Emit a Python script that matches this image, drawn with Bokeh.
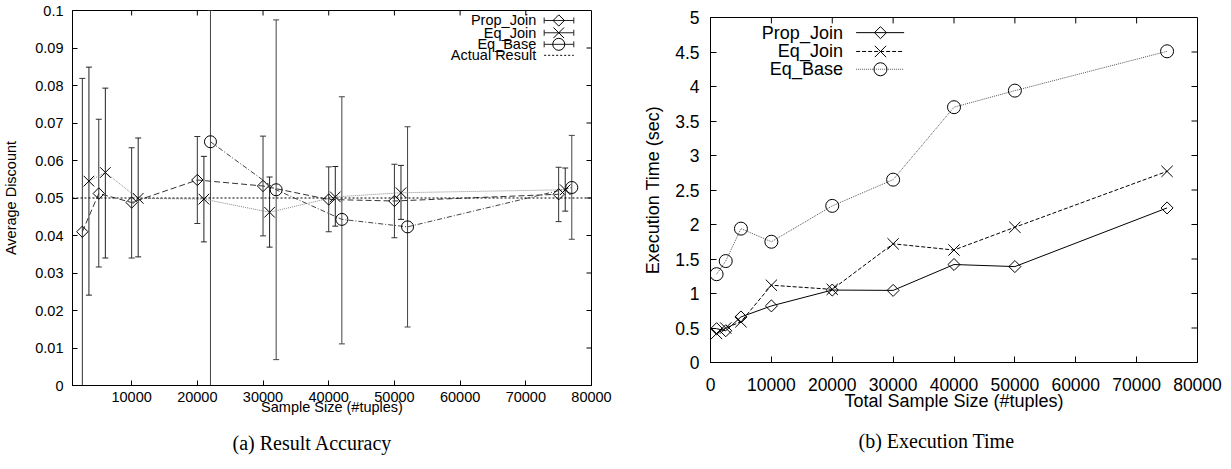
import numpy as np
from bokeh.plotting import figure
from bokeh.models import (ColumnDataSource, Whisker, TeeHead, Span, Label,
                          FixedTicker, Range1d, Title)
from bokeh.layouts import row, column
from bokeh.embed import file_html
from bokeh.resources import INLINE

# ---------------- (a) Result Accuracy ----------------
acc_prop_x = [2500, 5000, 10000, 20000, 30000, 40000, 50000, 75000]
acc_prop_mean = [0.0410, 0.0512, 0.0488, 0.0548, 0.0532, 0.0496, 0.0492, 0.0510]
acc_prop_low = [0.0000, 0.0316, 0.0340, 0.0432, 0.0399, 0.0410, 0.0394, 0.0437]
acc_prop_high = [0.0819, 0.0710, 0.0634, 0.0664, 0.0665, 0.0583, 0.0590, 0.0582]

acc_eqjoin_x = [3500, 6000, 11000, 21000, 31000, 41000, 51000, 76000]
acc_eqjoin_mean = [0.0545, 0.0568, 0.0499, 0.0497, 0.0462, 0.0503, 0.0514, 0.0522]
acc_eqjoin_low = [0.0241, 0.0340, 0.0343, 0.0383, 0.0369, 0.0425, 0.0443, 0.0465]
acc_eqjoin_high = [0.0849, 0.0793, 0.0660, 0.0611, 0.0556, 0.0584, 0.0587, 0.0580]

acc_eqbase_x = [22000, 32000, 42000, 52000, 77000]
acc_eqbase_mean = [0.0650, 0.0522, 0.0443, 0.0423, 0.0528]
acc_eqbase_low = [-0.0350, 0.0069, 0.0111, 0.0156, 0.0390]
acc_eqbase_high = [0.1650, 0.0975, 0.0770, 0.0690, 0.0667]

actual_result = 0.05

acc_x_ticks = [10000, 20000, 30000, 40000, 50000, 60000, 70000, 80000]
acc_x_tick_labels = ["10000", "20000", "30000", "40000", "50000", "60000", "70000", "80000"]
acc_y_ticks = [0.0, 0.01, 0.02, 0.03, 0.04, 0.05, 0.06, 0.07, 0.08, 0.09, 0.1]
acc_y_tick_labels = ["0", "0.01", "0.02", "0.03", "0.04", "0.05", "0.06", "0.07", "0.08", "0.09", "0.1"]

# ---------------- (b) Execution Time ----------------
time_sizes = [1000, 2500, 5000, 10000, 20000, 30000, 40000, 50000, 75000]
time_prop = [0.49, 0.46, 0.66, 0.82, 1.05, 1.045, 1.42, 1.39, 2.24]
time_eqjoin = [0.42, 0.50, 0.59, 1.12, 1.06, 1.72, 1.63, 1.96, 2.77]
time_eqbase = [1.28, 1.47, 1.94, 1.75, 2.27, 2.65, 3.70, 3.94, 4.51]

time_x_ticks = [0, 10000, 20000, 30000, 40000, 50000, 60000, 70000, 80000]
time_x_tick_labels = ["0", "10000", "20000", "30000", "40000", "50000", "60000", "70000", "80000"]
time_y_ticks = [0.0, 0.5, 1.0, 1.5, 2.0, 2.5, 3.0, 3.5, 4.0, 4.5, 5.0]
time_y_tick_labels = ["0", "0.5", "1", "1.5", "2", "2.5", "3", "3.5", "4", "4.5", "5"]

series_names = ["Prop_Join", "Eq_Join", "Eq_Base"]
actual_name = "Actual Result"

SANS = "Liberation Sans"
SERIF = "Liberation Serif"


def style_axes(p, xt, xl, yt, yl, fs, tick_in, x_lab_std, y_lab_std, xls, yls, label_fs):
    p.xaxis.ticker = FixedTicker(ticks=xt)
    p.yaxis.ticker = FixedTicker(ticks=yt)
    p.xaxis.major_label_overrides = {t: l for t, l in zip(xt, xl)}
    p.yaxis.major_label_overrides = {t: l for t, l in zip(yt, yl)}
    for ax in (p.xaxis, p.yaxis):
        ax.major_tick_in = tick_in
        ax.major_tick_out = 0
        ax.minor_tick_line_color = None
        ax.axis_line_color = "black"
        ax.major_tick_line_color = "black"
        ax.major_label_text_font = SANS
        ax.major_label_text_font_size = fs
        ax.major_label_text_color = "black"
        ax.axis_label_text_font = SANS
        ax.axis_label_text_font_size = label_fs
        ax.axis_label_text_font_style = "normal"
        ax.axis_label_text_color = "black"
    p.xaxis.major_label_standoff = x_lab_std
    p.yaxis.major_label_standoff = y_lab_std
    p.xaxis.axis_label_standoff = xls
    p.yaxis.axis_label_standoff = yls
    p.xgrid.grid_line_color = None
    p.ygrid.grid_line_color = None
    p.outline_line_color = "black"
    p.outline_line_alpha = 1.0


def mirror_ticks(p, xt, yt, frame_w, frame_h, tick_px):
    """inward tick marks on the top and right edges of the frame (gnuplot mirror)"""
    xr, yr = p.x_range, p.y_range
    dy = tick_px / frame_h * (yr.end - yr.start)
    dx = tick_px / frame_w * (xr.end - xr.start)
    xt_in = [t for t in xt if xr.start < t < xr.end]
    yt_in = [t for t in yt if yr.start < t < yr.end]
    p.segment(x0=xt_in, y0=[yr.end] * len(xt_in), x1=xt_in, y1=[yr.end - dy] * len(xt_in),
              line_color="black", line_width=1)
    p.segment(x0=[xr.end] * len(yt_in), y0=yt_in, x1=[xr.end - dx] * len(yt_in), y1=yt_in,
              line_color="black", line_width=1)


def fx(frac, r):
    return r.start + frac * (r.end - r.start)


def fy(frac_from_top, r):
    return r.end - frac_from_top * (r.end - r.start)


H = 466

# ======== Figure (a) ========
p1 = figure(width=628, height=H, output_backend="svg", toolbar_location=None,
            x_range=Range1d(1000, 80000), y_range=Range1d(0, 0.1),
            min_border_left=72, min_border_right=37, min_border_top=10, min_border_bottom=H - 386,
            x_axis_label="Sample Size (#tuples)", y_axis_label="Average Discount")
style_axes(p1, acc_x_ticks, acc_x_tick_labels, acc_y_ticks, acc_y_tick_labels,
           "14.5px", 5, 6, 9, -6, 13, "14.5px")
mirror_ticks(p1, acc_x_ticks, acc_y_ticks, 519, 376, 5)

p1.add_layout(Span(location=actual_result, dimension="width", line_color="black",
                   line_dash="2 2", line_width=1))

lines_a = [
    (acc_prop_x, acc_prop_mean, "#333333", "6 3"),
    (acc_eqjoin_x, acc_eqjoin_mean, "#888888", "1 1"),
    (acc_eqbase_x, acc_eqbase_mean, "#444444", "5 2 1 2"),
]
for xs, ys, col, dash in lines_a:
    p1.line(xs, ys, line_color=col, line_dash=dash, line_width=1)

err_sets = [
    (acc_prop_x, acc_prop_low, acc_prop_high, "#333333"),
    (acc_eqjoin_x, acc_eqjoin_low, acc_eqjoin_high, "#222222"),
    (acc_eqbase_x, acc_eqbase_low, acc_eqbase_high, "#444444"),
]
for xs, lo, hi, col in err_sets:
    src = ColumnDataSource(dict(x=xs, lo=np.clip(lo, 0, 0.1), hi=np.clip(hi, 0, 0.1)))
    p1.add_layout(Whisker(base="x", lower="lo", upper="hi", source=src, dimension="height",
                          line_color=col, line_width=1,
                          upper_head=TeeHead(size=6, line_color=col, line_width=1),
                          lower_head=TeeHead(size=6, line_color=col, line_width=1)))

mk_a = dict(line_color="black", fill_color=None, line_width=1)
p1.scatter(acc_prop_x, acc_prop_mean, marker="square", angle=np.pi / 4, size=8, **mk_a)
p1.scatter(acc_eqjoin_x, acc_eqjoin_mean, marker="x", size=15, **mk_a)
p1.scatter(acc_eqbase_x, acc_eqbase_mean, marker="circle", size=12, **mk_a)

# legend (a): labels left of samples, as in gnuplot
xr, yr = p1.x_range, p1.y_range
lg_text_x = fx(0.8935, xr)
lg_x0, lg_x1, lg_xm = fx(0.9088, xr), fx(0.9659, xr), fx(0.9369, xr)
lg_rows = [fy(f, yr) for f in (0.0266, 0.0594, 0.0902, 0.1195)]
lg_src = ColumnDataSource(dict(y=lg_rows[:3], lo=[lg_x0] * 3, hi=[lg_x1] * 3))
p1.add_layout(Whisker(base="y", lower="lo", upper="hi", source=lg_src, dimension="width",
                      line_color="#222222", line_width=1,
                      upper_head=TeeHead(size=6, line_color="#222222"),
                      lower_head=TeeHead(size=6, line_color="#222222")))
p1.scatter([lg_xm], [lg_rows[0]], marker="square", angle=np.pi / 4, size=8, **mk_a)
p1.scatter([lg_xm], [lg_rows[1]], marker="x", size=15, **mk_a)
p1.scatter([lg_xm], [lg_rows[2]], marker="circle", size=12, **mk_a)
p1.segment(x0=[lg_x0], y0=[lg_rows[3]], x1=[lg_x1], y1=[lg_rows[3]], line_color="black",
           line_dash="2 2", line_width=1)
for name, yv in zip(series_names + [actual_name], lg_rows):
    p1.add_layout(Label(x=lg_text_x, y=yv, text=name, text_align="right", text_baseline="middle",
                        text_font=SANS, text_font_size="14.5px", text_color="black"))

p1.add_layout(Title(text="(a) Result Accuracy", align="left", offset=160, standoff=25,
                    text_font=SERIF, text_font_size="20px", text_font_style="normal",
                    text_color="black"), "below")

# ======== Figure (b) ========
p2 = figure(width=600, height=H, output_backend="svg", toolbar_location=None,
            x_range=Range1d(0, 80000), y_range=Range1d(0, 5),
            min_border_left=82, min_border_right=31, min_border_top=17, min_border_bottom=H - 365,
            x_axis_label="Total Sample Size (#tuples)", y_axis_label="Execution Time (sec)")
style_axes(p2, time_x_ticks, time_x_tick_labels, time_y_ticks, time_y_tick_labels,
           "17.5px", 6, 15, 11, -3, 9, "18px")
mirror_ticks(p2, time_x_ticks, time_y_ticks, 487, 348, 6)

mk_b = dict(line_color="black", fill_color=None, line_width=1)
p2.line(time_sizes, time_prop, line_color="black", line_width=1)
p2.line(time_sizes, time_eqjoin, line_color="black", line_dash="4 2", line_width=1)
p2.line(time_sizes, time_eqbase, line_color="#555555", line_dash="1 1", line_width=1)
p2.scatter(time_sizes, time_prop, marker="square", angle=np.pi / 4, size=8.5, **mk_b)
p2.scatter(time_sizes, time_eqjoin, marker="x", size=16, **mk_b)
p2.scatter(time_sizes, time_eqbase, marker="circle", size=13, **mk_b)

xr2, yr2 = p2.x_range, p2.y_range
lg2_text_x = fx(0.2719, xr2)
lg2_x0, lg2_x1, lg2_xm = fx(0.299, xr2), fx(0.3976, xr2), fx(0.349, xr2)
lg2_rows = [fy(f, yr2) for f in (0.0439, 0.0985, 0.150)]
styles_b = [("black", "solid"), ("black", "4 2"), ("#555555", "1 1")]
for (col, dash), yv in zip(styles_b, lg2_rows):
    p2.segment(x0=[lg2_x0], y0=[yv], x1=[lg2_x1], y1=[yv], line_color=col, line_dash=dash,
               line_width=1)
p2.scatter([lg2_xm], [lg2_rows[0]], marker="square", angle=np.pi / 4, size=8.5, **mk_b)
p2.scatter([lg2_xm], [lg2_rows[1]], marker="x", size=16, **mk_b)
p2.scatter([lg2_xm], [lg2_rows[2]], marker="circle", size=13, **mk_b)
for name, yv in zip(series_names, lg2_rows):
    p2.add_layout(Label(x=lg2_text_x, y=yv, text=name, text_align="right", text_baseline="middle",
                        text_font=SANS, text_font_size="18px", text_color="black"))

p2.add_layout(Title(text="(b) Execution Time", align="left", offset=148, standoff=29,
                    text_font=SERIF, text_font_size="20px", text_font_style="normal",
                    text_color="black"), "below")

layout = row(column(p1), column(p2))
open("out.html", "w").write(file_html(layout, INLINE))
